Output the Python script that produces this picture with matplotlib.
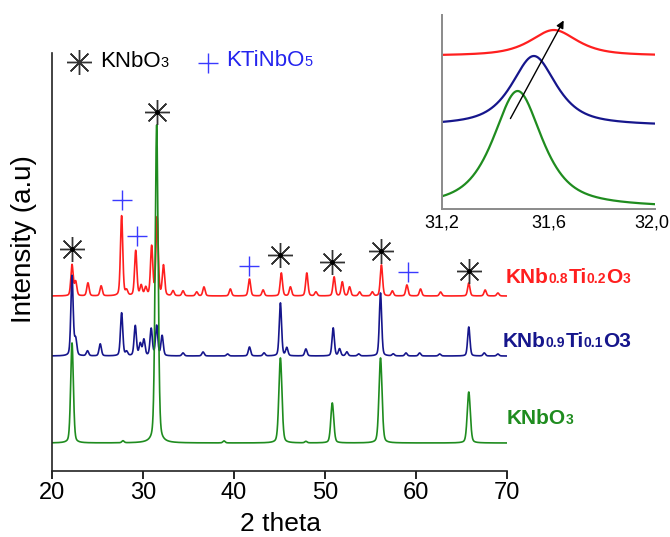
import numpy as np
import matplotlib
matplotlib.use("Agg")
import matplotlib.pyplot as plt

FONT = "Liberation Sans"
W, H = 670, 537

# peak tables: (2theta, height, fwhm)
green_pos = [22.2, 27.8, 31.5, 38.9, 45.1, 47.9, 50.8, 56.1, 65.8]
green_hgt = [100, 2, 318, 2, 85, 1.5, 40, 85, 51]
green_wid = [0.35, 0.3, 0.38, 0.3, 0.4, 0.3, 0.38, 0.4, 0.4]
green_base = 28

blue_pos = [22.2, 22.6, 23.9, 25.3, 27.65, 28.2, 29.15, 29.7, 30.1, 30.9, 31.5, 32.1,
            34.4, 36.6, 39.3, 41.7, 43.3, 45.1, 45.8, 47.9, 50.9, 51.6, 52.4, 53.7,
            56.1, 57.5, 58.9, 60.4, 62.6, 65.8, 67.5, 69.0]
blue_hgt = [80, 16, 5, 12, 43, 4, 30, 12, 16, 27, 30, 20,
            3, 4, 2, 9, 3, 53, 8, 7, 28, 7, 4, 2,
            63, 2, 3, 3, 2, 29, 3, 2]
blue_base = 115

red_pos = [22.2, 22.6, 23.95, 25.4, 27.65, 28.2, 29.2, 29.8, 30.3, 30.95, 31.55, 32.25,
           33.3, 34.4, 35.9, 36.7, 39.6, 41.7, 43.2, 45.2, 46.2, 48.0, 49.0, 51.0,
           51.9, 52.7, 53.8, 55.2, 56.2, 57.4, 59.0, 60.5, 62.7, 65.8, 67.6, 69.0]
red_hgt = [31, 14, 13, 10, 80, 5, 45, 10, 8, 49, 78, 30,
           5, 5, 4, 9, 7, 17, 6, 23, 9, 23, 4, 19,
           14, 9, 4, 4, 31, 5, 11, 7, 4, 13, 6, 3]
red_base = 175

# inset (31.2 - 32.0): center, height, fwhm, baseline
inset_green = (31.484, 117, 0.22, 1)
inset_blue = (31.545, 70, 0.20, 83)
inset_red = (31.62, 26, 0.21, 153)

star_x = [22.2, 31.5, 45.1, 50.8, 56.1, 65.8]
star_y = [222, 359, 216, 209, 220, 200]
plus_x = [27.7, 29.3, 41.7, 59.1]
plus_y = [271, 235, 205, 199]

RED = "#ff1f1f"
BLUE = "#16168c"
GREEN = "#1f8c1f"


def pattern(x, pos, hgt, wid, base, eta=0.3):
    y = np.full_like(x, float(base))
    for p, h, w in zip(pos, hgt, wid):
        g = np.exp(-4 * np.log(2) * ((x - p) / w) ** 2)
        l = 1 / (1 + 4 * ((x - p) / w) ** 2)
        y += h * (eta * l + (1 - eta) * g)
    return y


def rich(fig, x, y, parts, color, weight="normal"):
    renderer = fig.canvas.get_renderer()
    for s, size in parts:
        t = fig.text(x / W, 1 - y / H, s, fontsize=size, color=color, weight=weight,
                     va="baseline", ha="left", family=FONT)
        x += t.get_window_extent(renderer).width


def main():
    fig = plt.figure(figsize=(6.7, 5.37), dpi=100)
    ax = fig.add_axes([52 / W, 66 / H, 455 / W, 418 / H])
    x = np.arange(20, 70.0001, 0.01)

    ax.plot(x, pattern(x, red_pos, red_hgt, [0.3] * len(red_pos), red_base), color=RED, lw=1.2)
    ax.plot(x, pattern(x, blue_pos, blue_hgt, [0.3] * len(blue_pos), blue_base), color=BLUE, lw=1.2)
    ax.plot(x, pattern(x, green_pos, green_hgt, green_wid, green_base), color=GREEN, lw=1.2)

    ax.plot(star_x, star_y, ls="none", marker=(8, 2, 0), ms=18, mew=1.0, color="#333333")
    ax.plot(star_x, star_y, ls="none", marker="o", ms=2.5, color="black")
    ax.plot(plus_x, plus_y, ls="none", marker="+", ms=14, mew=1.0, color="#3a3aff")

    ax.set_xlim(20, 70)
    ax.set_ylim(0, 418)
    ax.set_xticks([20, 30, 40, 50, 60, 70])
    ax.set_yticks([])
    for s in ["top", "right"]:
        ax.spines[s].set_visible(False)
    for s in ["left", "bottom"]:
        ax.spines[s].set_linewidth(1.2)
        ax.spines[s].set_color("#222222")
    ax.tick_params(axis="x", direction="out", length=6, width=1.2, labelsize=17, pad=2)
    for lab in ax.get_xticklabels():
        lab.set_family(FONT)
    ax.set_facecolor("none")

    fig.text(280 / W, 1 - 524 / H, "2 theta", fontsize=19, family=FONT, ha="center", va="center")
    fig.text(24 / W, 1 - 239 / H, "Intensity (a.u)", fontsize=20, family=FONT,
             rotation=90, ha="center", va="center")

    # legend
    ax_leg = fig.add_axes([0, 0, 1, 1], facecolor="none")
    ax_leg.set_xlim(0, W)
    ax_leg.set_ylim(H, 0)
    ax_leg.axis("off")
    ax_leg.plot([79], [62], marker=(8, 2, 0), ms=18, mew=1.0, color="#333333")
    ax_leg.plot([208], [63], marker="+", ms=15, mew=1.0, color="#3a3aff")
    rich(fig, 100, 67, [("KNbO", 16), ("3", 10.5)], "black")
    rich(fig, 226, 66, [("KTiNbO", 16), ("5", 10.5)], "#2424ee")

    rich(fig, 506, 283, [("KNb", 15), ("0.8", 10), ("Ti", 15), ("0.2", 10), ("O", 15), ("3", 10)],
         RED, "bold")
    rich(fig, 503, 347, [("KNb", 15), ("0.9", 10), ("Ti", 15), ("0.1", 10), ("O3", 15)],
         BLUE, "bold")
    rich(fig, 507, 424, [("KNbO", 15), ("3", 10)], GREEN, "bold")

    # inset
    axi = fig.add_axes([442 / W, (H - 209) / H, 213 / W, 194 / H])
    xi = np.arange(31.2, 32.0001, 0.002)
    for (c, h, w, b), col in [(inset_red, RED), (inset_blue, BLUE), (inset_green, GREEN)]:
        axi.plot(xi, pattern(xi, [c], [h], [w], b, eta=0.75), color=col, lw=1.6)
    axi.annotate("", xy=(31.662, 191), xytext=(31.452, 88),
                 arrowprops=dict(arrowstyle="-|>", color="black", lw=1.0, mutation_scale=11))
    axi.set_xlim(31.2, 32.0)
    axi.set_ylim(0, 194)
    axi.set_xticks([31.2, 31.6, 32.0])
    axi.set_xticklabels(["31,2", "31,6", ""], family=FONT)
    axi.set_yticks([])
    axi.tick_params(axis="x", length=0, labelsize=13, pad=4)
    fig.text(669 / W, 1 - 214.5 / H, "32,0", fontsize=13, family=FONT, ha="right", va="top")
    for s in ["top", "right"]:
        axi.spines[s].set_visible(False)
    for s in ["left", "bottom"]:
        axi.spines[s].set_color("#8a8a8a")
        axi.spines[s].set_linewidth(1.4)
    axi.set_facecolor("none")

    fig.savefig("out.png", dpi=100)


if __name__ == "__main__":
    main()
